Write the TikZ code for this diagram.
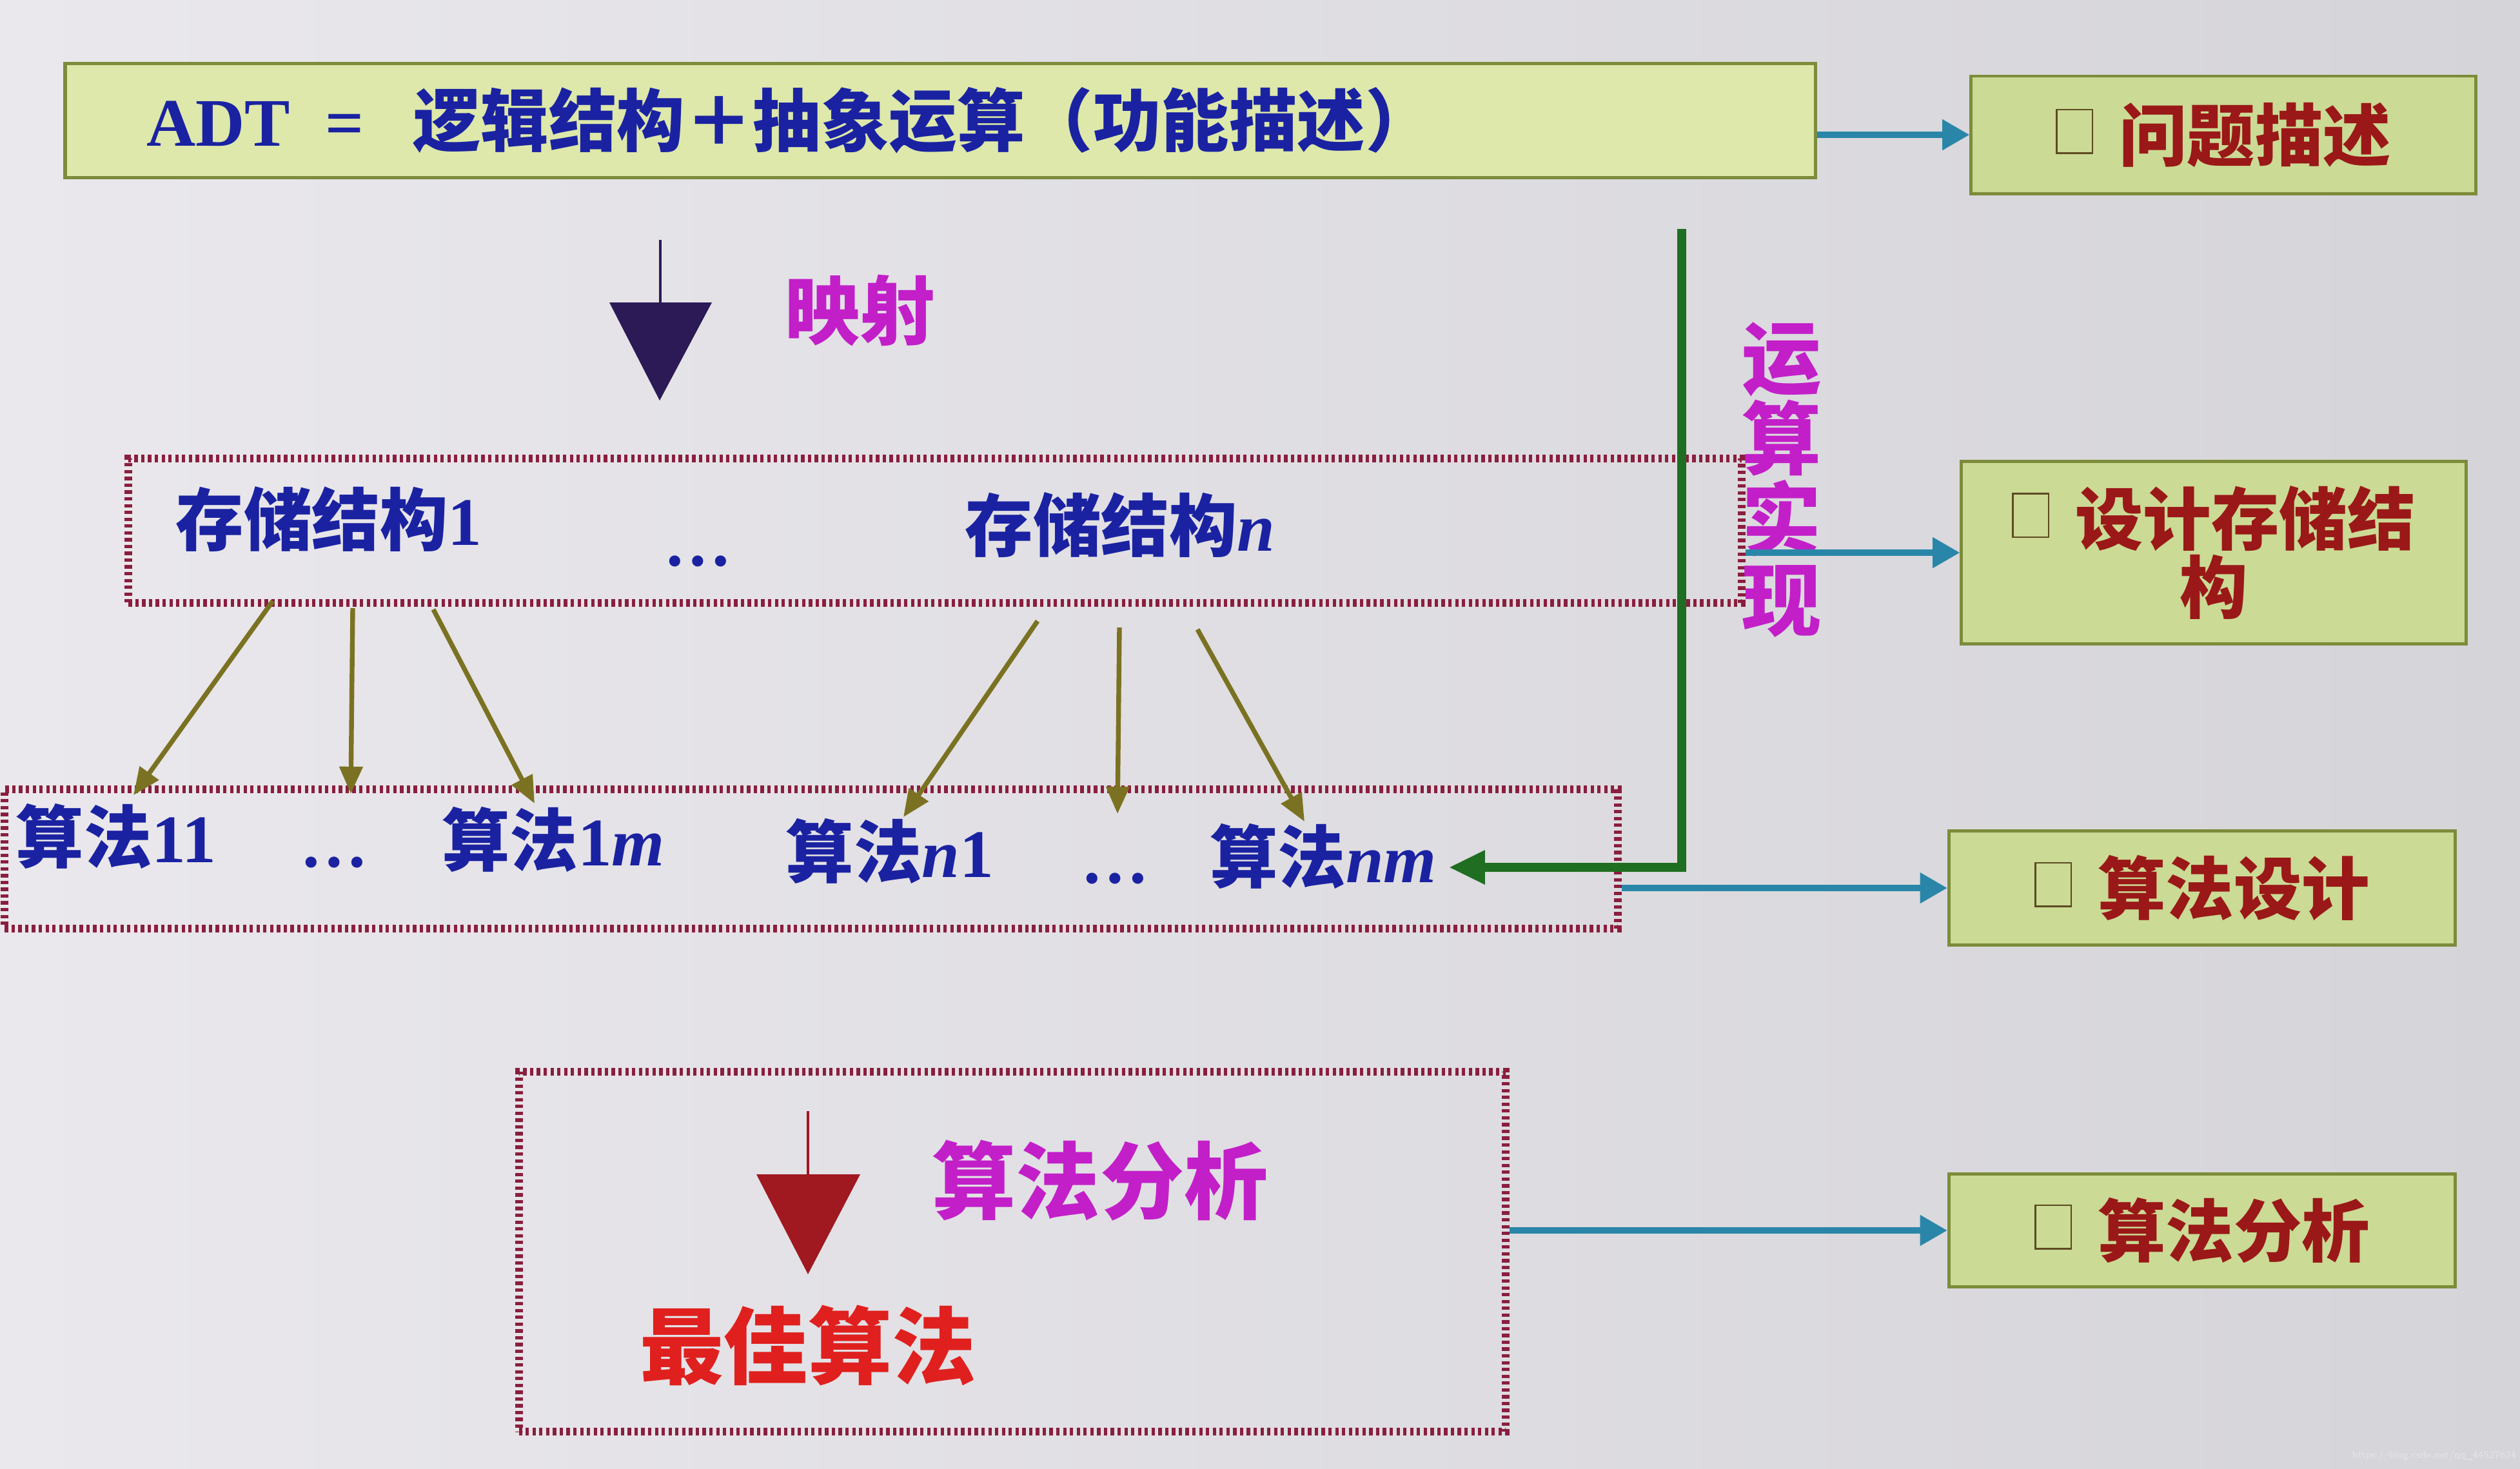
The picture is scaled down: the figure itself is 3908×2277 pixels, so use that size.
\documentclass[tikz,border=0pt]{standalone}
\usepackage{fontspec}
\setmainfont{Liberation Serif}
\newfontfamily\cjkf{Noto Sans CJK SC}
\usetikzlibrary{arrows.meta,calc}
\definecolor{bgl}{HTML}{EAE8EC}
\definecolor{bgr}{HTML}{D5D4D8}
\definecolor{adtfill}{HTML}{DDE8AA}
\definecolor{rfill}{HTML}{CBDA94}
\definecolor{gline}{HTML}{7C8C3A}
\definecolor{navy}{HTML}{1A22A2}
\definecolor{dred}{HTML}{9A1818}
\definecolor{mag}{HTML}{C21FC9}
\definecolor{bred}{HTML}{E0201E}
\definecolor{tri2}{HTML}{A01820}
\definecolor{tealc}{HTML}{2A86A8}
\definecolor{olivec}{HTML}{7A7222}
\definecolor{grn}{HTML}{1F6E22}
\definecolor{dotc}{HTML}{8A1E3E}
\definecolor{indig}{HTML}{2B1A55}
\definecolor{sqc}{HTML}{5C4A22}
\newcommand\zhx[1]{{\cjkf\bfseries #1}}
\newcommand\lbx[1]{{\bfseries #1}}
\newcommand\lix[1]{{\bfseries\itshape #1}}
\newcommand\sqb{\raisebox{0.13cm}{{\color{sqc}\setlength\fboxsep{0pt}\setlength\fboxrule{0.7pt}\fbox{\rule{0pt}{0.65cm}\hspace{0.53cm}}}}\hspace{0.4cm}}
\tikzset{
  txt/.style={inner sep=0pt, font=\fontsize{30pt}{31pt}\selectfont},
  gbox/.style={draw=gline, line width=1.6pt, fill=adtfill},
  rbox/.style={draw=gline, line width=1.4pt, fill=rfill, text=dred, align=center, inner sep=0pt, font=\fontsize{30pt}{30pt}\selectfont},
  dotbox/.style={draw=dotc, line width=3.4pt, dash pattern=on 1.5pt off 1.5pt},
  tarr/.style={draw=tealc, line width=2.6pt, -{Triangle[length=12pt,width=13pt]}},
  oarr/.style={draw=olivec, line width=2.1pt, -{Triangle[length=12pt,width=10pt]}},
  garr/.style={draw=grn, line width=4pt, -{Triangle[length=16pt,width=14pt]}}
}
\begin{document}
\begin{tikzpicture}[x=0.01cm,y=-0.01cm]
\shade[left color=bgl,right color=bgr] (0,0) rectangle (3908,2277);
\useasboundingbox (0,0) rectangle (3908,2277);

% top ADT box
\node[gbox, minimum width=27.13cm, minimum height=1.77cm, text width=24.6cm, inner xsep=1.26cm, inner ysep=0pt, align=left, text=navy, font=\fontsize{30pt}{31pt}\selectfont] (adt) at (1458,187) {\lbx{ADT\hspace{0.55cm}=}\hspace{0.75cm}\zhx{逻辑结构＋抽象运算（功能描述）}};

% right boxes
\node[rbox, minimum width=7.82cm, minimum height=1.82cm] (q1) at (3448,209) {\sqb\zhx{问题描述}};
\node[rbox, minimum width=7.82cm, minimum height=2.83cm] (d2) at (3433,857) {\sqb\zhx{设计存储结}\\\zhx{构}};
\node[rbox, minimum width=7.85cm, minimum height=1.77cm] (d3) at (3415,1377) {\sqb\zhx{算法设计}};
\node[rbox, minimum width=7.85cm, minimum height=1.75cm] (d4) at (3415,1908) {\sqb\zhx{算法分析}};

% dotted boxes
\node[dotbox, minimum width=25cm, minimum height=2.23cm] (sbox) at (1450,823) {};
\node[dotbox, minimum width=25cm, minimum height=2.15cm] (abox) at (1258,1332) {};
\node[dotbox, minimum width=15.3cm, minimum height=5.58cm] (anbox) at (1570,1941) {};

% mapping arrow
\draw[indig, line width=1pt] (1024,372) -- (1024,469);
\fill[indig] (945,469) -- (1104,469) -- (1023,621) -- cycle;
\node[txt, text=mag, font=\fontsize{33pt}{34pt}\selectfont] (ys) at (1334,482) {\zhx{映射}};

% storage structures
\node[txt, text=navy] (s1) at (510,805) {\zhx{存储结构}\lbx{1}};
\node[txt, text=navy] (sdots) at (1082,870) {\lbx{…}};
\node[txt, text=navy] (sn) at (1737,814) {\zhx{存储结构}\lix{n}};

% algorithms
\node[txt, text=navy] (a11) at (180,1297) {\zhx{算法}\lbx{11}};
\node[txt, text=navy] (adots1) at (518,1337) {\lbx{…}};
\node[txt, text=navy] (a1m) at (858,1302) {\zhx{算法}\lbx{1}\lix{m}};
\node[txt, text=navy] (an1) at (1380,1320) {\zhx{算法}\lix{n}\lbx{1}};
\node[txt, text=navy] (adots2) at (1729,1362) {\lbx{…}};
\node[txt, text=navy] (anm) at (2052,1328) {\zhx{算法}\lix{nm}};

% olive arrows
\draw[oarr] ($(s1)+(-87,127)$) -- ($(a11)+(27,-64)$);
\draw[oarr] ($(s1)+(37,138)$) -- ($(adots1)+(26,-106)$);
\draw[oarr] ($(s1)+(162,140)$) -- ($(a1m)+(-29,-56)$);
\draw[oarr] ($(sn)+(-128,149)$) -- ($(an1)+(21,-53)$);
\draw[oarr] ($(sn)+(-1,159)$) -- ($(adots2)+(4,-100)$);
\draw[oarr] ($(sn)+(120,162)$) -- ($(anm)+(-29,-54)$);

% green implementation line
\coordinate (gtop) at (2608,355);
\draw[garr] (gtop) |- ([xshift=0.18cm,yshift=-0.17cm]anm.east);
\node[txt, text=mag, align=center, font=\fontsize{35pt}{35.5pt}\selectfont] (ysx) at (2763,744) {\zhx{运}\\\zhx{算}\\\zhx{实}\\\zhx{现}};

% analysis box contents
\draw[tri2, line width=1pt] (1253,1723) -- (1253,1821);
\fill[tri2] (1173,1821) -- (1334,1821) -- (1253,1976) -- cycle;
\node[txt, text=mag, font=\fontsize{37pt}{38pt}\selectfont] (sffx) at (1706,1831) {\zhx{算法分析}};
\node[txt, text=bred, font=\fontsize{37pt}{38pt}\selectfont] (zjsf) at (1253,2086) {\zhx{最佳算法}};

% teal arrows
\draw[tarr] (adt.east |- q1.west) -- (q1.west);
\draw[tarr] (sbox.east |- d2.west) -- (d2.west);
\draw[tarr] (abox.east |- d3.west) -- (d3.west);
\draw[tarr] (anbox.east |- d4.west) -- (d4.west);

% watermark
\node[inner sep=0pt, font=\fontsize{4.5pt}{5pt}\selectfont\sffamily, text=white!80!gray] (wm) at (3775,2258) {https://blog.csdn.net/qq\_44527624};
\end{tikzpicture}
\end{document}
